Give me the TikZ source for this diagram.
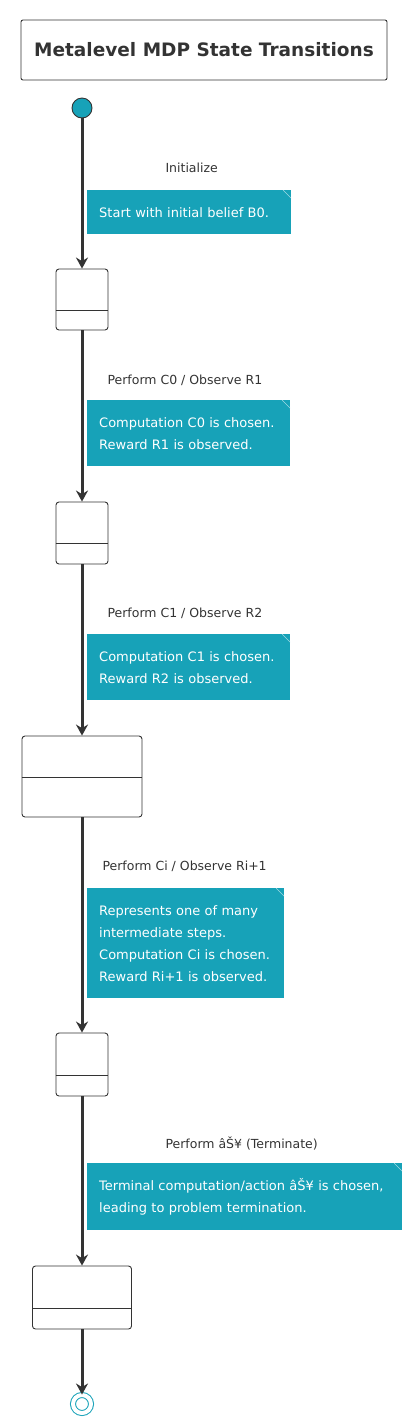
\documentclass[tikz,border=0pt]{standalone}
\usepackage{fontspec}
\setmainfont{DejaVu Sans}
\usepackage{xcolor}
\usetikzlibrary{arrows.meta, positioning, calc}

\definecolor{noteteal}{HTML}{17A2B8}
\definecolor{ink}{HTML}{333333}

\tikzset{
  statebox/.style={draw=ink, rounded corners=3pt, fill=white, line width=0.9pt, inner sep=0pt},
  flow/.style={draw=ink, line width=3pt, -{Stealth[length=11pt,width=12pt]}},
  note/.style={fill=noteteal, text=white, align=left, anchor=north west, inner xsep=12pt, inner ysep=0pt,
    font=\fontsize{13}{22}\selectfont,
    path picture={\draw[white!60!noteteal, line width=0.6pt] ([xshift=-8pt]path picture bounding box.north east) -- ([yshift=-8pt]path picture bounding box.north east);}},
  lbl/.style={text=ink, anchor=west, font=\fontsize{12.5}{14}\selectfont}
}

\begin{document}
\begin{tikzpicture}[x=1pt, y=-1pt]
\useasboundingbox (0,0) rectangle (411,1425);

% Title
\node[draw=ink, line width=0.9pt, rounded corners=2pt, minimum width=366, minimum height=60, font=\fontsize{18.5}{22}\selectfont\bfseries, text=ink] (title) at (204,50) {Metalevel MDP State Transitions};

% Start and end
\node[circle, draw=ink, fill=noteteal, line width=0.9pt, minimum size=20, inner sep=0pt] (start) at (82,108) {};
\node[circle, draw=noteteal, double=white, double distance=4pt, line width=1pt, minimum size=18, inner sep=0pt] (stop) at (82,1404) {};

% States
\node[statebox, minimum width=52, minimum height=61] (s0) at (82,299.5) {};
\draw[ink, line width=0.9pt] (s0.west |- 0,310) -- (s0.east |- 0,310);
\node[statebox, minimum width=52, minimum height=62] (s1) at (82,533) {};
\draw[ink, line width=0.9pt] (s1.west |- 0,543) -- (s1.east |- 0,543);
\node[statebox, minimum width=120, minimum height=81] (s2) at (82,776.5) {};
\draw[ink, line width=0.9pt] (s2.west |- 0,777) -- (s2.east |- 0,777);
\node[statebox, minimum width=52, minimum height=63] (s3) at (82,1064.5) {};
\draw[ink, line width=0.9pt] (s3.west |- 0,1075) -- (s3.east |- 0,1075);
\node[statebox, minimum width=99, minimum height=63] (s4) at (82,1297.5) {};
\draw[ink, line width=0.9pt] (s4.west |- 0,1308) -- (s4.east |- 0,1308);

% Transitions
\draw[flow] (start) -- (s0);
\draw[flow] (s0) -- (s1);
\draw[flow] (s1) -- (s2);
\draw[flow] (s2) -- (s3);
\draw[flow] (s3) -- (s4);
\draw[flow] (s4) -- (stop);

% Labels
\node[lbl] (l0) at (162,168) {Initialize};
\node[lbl] (l1) at (104,380) {Perform C0 / Observe R1};
\node[lbl] (l2) at (104,613) {Perform C1 / Observe R2};
\node[lbl] (l3) at (99,866) {Perform Ci / Observe Ri+1};
\node[lbl] (l4) at (162,1144) {Perform âŠ¥ (Terminate)};

% Notes
\node[note, text width=180, minimum height=44] (n0) at (87,190) {Start with initial belief B0.};
\node[note, text width=179, minimum height=66] (n1) at (87,400) {Computation C0 is chosen.\\Reward R1 is observed.};
\node[note, text width=179, minimum height=66] (n2) at (87,634) {Computation C1 is chosen.\\Reward R2 is observed.};
\node[note, text width=173, minimum height=110] (n3) at (87,888) {Represents one of many\\intermediate steps.\\Computation Ci is chosen.\\Reward Ri+1 is observed.};
\node[note, text width=291, minimum height=67] (n4) at (87,1163) {Terminal computation/action âŠ¥ is chosen,\\leading to problem termination.};
\end{tikzpicture}
\end{document}
